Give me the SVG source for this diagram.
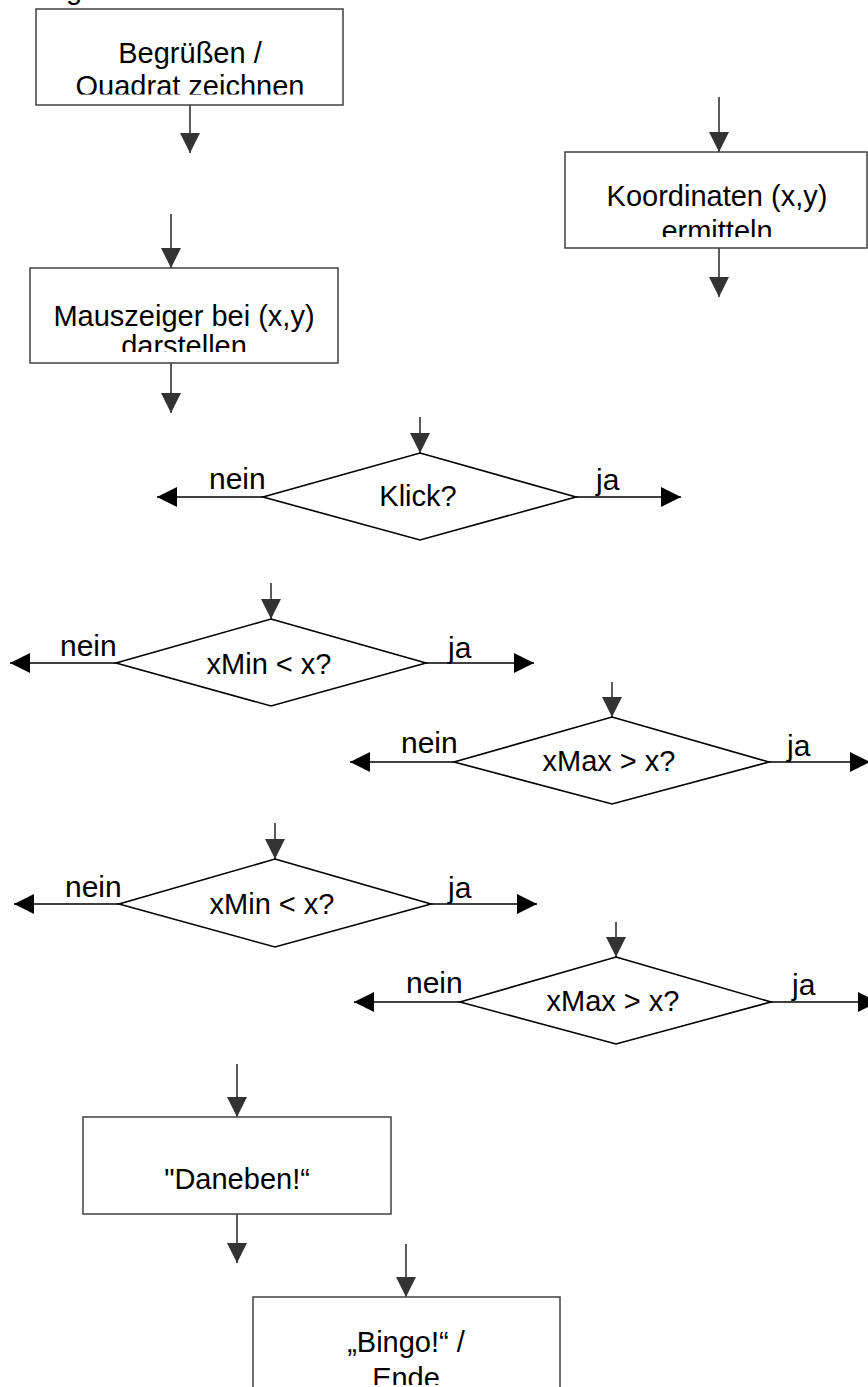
<svg xmlns="http://www.w3.org/2000/svg" width="868" height="1387" viewBox="0 0 868 1387">
<style>
text{font-family:"Liberation Sans",Arial,sans-serif;fill:#000}
.t{font-size:29px;text-anchor:middle}
.lbl{font-size:30px}
.box{fill:#fff;stroke:#404040;stroke-width:1.5}
.dia{fill:#fff;stroke:#000;stroke-width:1.6}
.g{stroke:#333;stroke-width:1.6;fill:none}
.k{stroke:#000;stroke-width:1.6;fill:none}
</style>
<defs>
<marker id="ag" viewBox="0 0 20 20" markerWidth="20" markerHeight="20" refX="20" refY="10" orient="auto" markerUnits="userSpaceOnUse"><path d="M0,0 L20,10 L0,20 z" fill="#333"/></marker>
<marker id="ak" viewBox="0 0 20 20" markerWidth="20" markerHeight="20" refX="20" refY="10" orient="auto" markerUnits="userSpaceOnUse"><path d="M0,0 L20,10 L0,20 z" fill="#000"/></marker>
<clipPath id="c1"><rect x="36" y="9" width="307" height="85.5"/></clipPath>
<clipPath id="c2"><rect x="565" y="152" width="303" height="85"/></clipPath>
<clipPath id="c3"><rect x="30" y="268" width="308" height="84"/></clipPath>
<clipPath id="c4"><rect x="253" y="1297" width="307" height="88"/></clipPath>
</defs>
<text x="66" y="-1" style="font-size:29px">g</text>
<g id="connectors">
<line class="g" x1="190" y1="105" x2="190" y2="153" marker-end="url(#ag)"/>
<line class="g" x1="719" y1="97" x2="719" y2="152" marker-end="url(#ag)"/>
<line class="g" x1="719" y1="248" x2="719" y2="297" marker-end="url(#ag)"/>
<line class="g" x1="171" y1="214" x2="171" y2="268" marker-end="url(#ag)"/>
<line class="g" x1="171" y1="363" x2="171" y2="413" marker-end="url(#ag)"/>
<line class="g" x1="420" y1="417" x2="420" y2="453" marker-end="url(#ag)"/>
<line class="g" x1="271" y1="583" x2="271" y2="619" marker-end="url(#ag)"/>
<line class="g" x1="612" y1="682" x2="612" y2="717" marker-end="url(#ag)"/>
<line class="g" x1="275" y1="823" x2="275" y2="859" marker-end="url(#ag)"/>
<line class="g" x1="616" y1="922" x2="616" y2="957" marker-end="url(#ag)"/>
<line class="g" x1="237" y1="1064" x2="237" y2="1117" marker-end="url(#ag)"/>
<line class="g" x1="237" y1="1214" x2="237" y2="1263" marker-end="url(#ag)"/>
<line class="g" x1="406" y1="1244" x2="406" y2="1297" marker-end="url(#ag)"/>
<line class="k" x1="263" y1="497" x2="157" y2="497" marker-end="url(#ak)"/>
<line class="k" x1="576" y1="497" x2="681" y2="497" marker-end="url(#ak)"/>
<line class="k" x1="116" y1="663" x2="10" y2="663" marker-end="url(#ak)"/>
<line class="k" x1="426" y1="663" x2="534" y2="663" marker-end="url(#ak)"/>
<line class="k" x1="454" y1="762" x2="350" y2="762" marker-end="url(#ak)"/>
<line class="k" x1="769" y1="762" x2="870" y2="762" marker-end="url(#ak)"/>
<line class="k" x1="119" y1="904" x2="14" y2="904" marker-end="url(#ak)"/>
<line class="k" x1="431" y1="904" x2="537" y2="904" marker-end="url(#ak)"/>
<line class="k" x1="460" y1="1002" x2="354" y2="1002" marker-end="url(#ak)"/>
<line class="k" x1="771" y1="1002" x2="878" y2="1002" marker-end="url(#ak)"/>
</g>
<g id="start">
<rect class="box" x="36" y="9" width="307" height="96"/>
<g clip-path="url(#c1)">
<text class="t" x="190" y="63">Begrüßen /</text>
<text class="t" x="190" y="96">Quadrat zeichnen</text>
</g>
</g>
<g id="koord">
<rect class="box" x="565" y="152" width="302" height="96"/>
<g clip-path="url(#c2)">
<text class="t" x="717" y="206">Koordinaten (x,y)</text>
<text class="t" x="717" y="241">ermitteln</text>
</g>
</g>
<g id="maus">
<rect class="box" x="30" y="268" width="308" height="95"/>
<g clip-path="url(#c3)">
<text class="t" x="184" y="326">Mauszeiger bei (x,y)</text>
<text class="t" x="184" y="356">darstellen</text>
</g>
</g>
<g id="klick">
<polygon class="dia" points="420,453 576,497 420,540 263,497"/>
<text class="t" x="418" y="506">Klick?</text>
<text class="lbl" x="209" y="489">nein</text>
<text class="lbl" x="596" y="490">ja</text>
</g>
<g id="xmin1">
<polygon class="dia" points="271,619 426,663 271,706 116,663"/>
<text class="t" x="269" y="674">xMin &lt; x?</text>
<text class="lbl" x="60" y="656">nein</text>
<text class="lbl" x="448" y="658">ja</text>
</g>
<g id="xmax1">
<polygon class="dia" points="612,717 769,762 612,804 454,762"/>
<text class="t" x="609" y="771">xMax &gt; x?</text>
<text class="lbl" x="401" y="753">nein</text>
<text class="lbl" x="787" y="756">ja</text>
</g>
<g id="xmin2">
<polygon class="dia" points="275,859 431,904 275,947 119,904"/>
<text class="t" x="272" y="914">xMin &lt; x?</text>
<text class="lbl" x="65" y="897">nein</text>
<text class="lbl" x="448" y="898">ja</text>
</g>
<g id="xmax2">
<polygon class="dia" points="616,957 771,1002 616,1044 460,1002"/>
<text class="t" x="613" y="1011">xMax &gt; x?</text>
<text class="lbl" x="406" y="993">nein</text>
<text class="lbl" x="792" y="995">ja</text>
</g>
<g id="daneben">
<rect class="box" x="83" y="1117" width="308" height="97"/>
<text class="t" x="237" y="1189">"Daneben!“</text>
</g>
<g id="bingo">
<rect class="box" x="253" y="1297" width="307" height="100"/>
<g clip-path="url(#c4)">
<text class="t" x="406" y="1352">„Bingo!“ /</text>
<text class="t" x="406" y="1388">Ende</text>
</g>
</g>
</svg>
